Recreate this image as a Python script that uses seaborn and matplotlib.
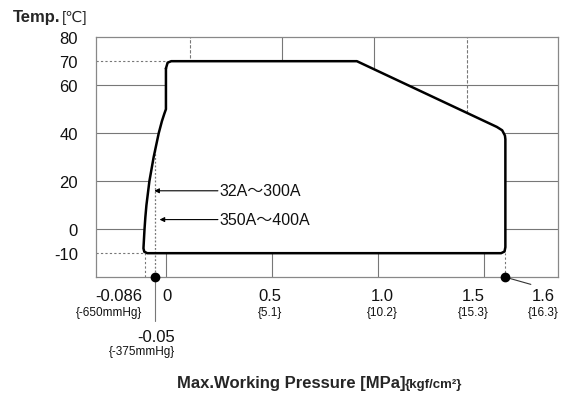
import numpy as np
import pandas as pd
import matplotlib
matplotlib.use("Agg")
import matplotlib.pyplot as plt
import seaborn as sns

# outline of the working range (pressure MPa, temp C)
bound_p = [0.0, 0.008, 0.025, 0.90, 1.56, 1.585, 1.598, 1.60, 1.60, 1.596, 1.58,
           -0.088, -0.102, -0.106, -0.101, -0.097, -0.092, -0.085, -0.078, -0.068,
           -0.058, -0.046, -0.034, -0.019, -0.008, 0.0, 0.0]
bound_t = [67, 69.4, 70, 70, 42.6, 41.2, 39, 37.5, -7.5, -9.3, -10,
           -10, -9.4, -8, 0, 5, 10, 15, 20, 25,
           30, 35, 40, 45, 48, 50, 67]

# 350A~400A limit (dotted)
big_p = [-0.05, -0.05]
big_t = [33, -20]

y_ticks = [80, 70, 60, 40, 20, 0, -10]
h_grid = [60, 40, 20, 0]
top_grid = [0.113, 0.547, 0.98, 1.42]
top_grid_dash = [True, False, False, True]
bot_grid = [0, 0.5, 1.0, 1.5]

x_labels = ['-0.086', '0', '0.5', '1.0', '1.5', '1.6']
x_kgf = ['{-650mmHg}', '', '{5.1}', '{10.2}', '{15.3}', '{16.3}']
x_label_pos = [-0.113, 0.005, 0.49, 1.02, 1.448, 1.778]
x_label_ha = ['right', 'center', 'center', 'center', 'center', 'center']

vac_label = '-0.05'
vac_kgf = '{-375mmHg}'

marks_p = [-0.05, 1.6]

sizes = ['32A～300A', '350A～400A']
size_t = [16, 4]
size_tip = [-0.055, -0.03]

sns.set_theme(style="white")
plt.rcParams['font.family'] = ['Liberation Sans', 'DejaVu Sans', 'Noto Sans CJK JP']

fig = plt.figure(figsize=(5.61, 4.02), dpi=100)
ax = fig.add_axes([0.171, 0.308, 0.824, 0.597])
ax.set_xlim(-0.330, 1.849)
ax.set_ylim(-20, 80)

grid_c = '#777777'
# grid pieces
ax.hlines(h_grid, -0.33, 1.849, color=grid_c, lw=0.8, zorder=1)
ax.hlines([70], -0.33, 0.0, color=grid_c, lw=0.8, ls=(0, (2, 2)), zorder=1)
ax.hlines([-10], -0.33, -0.1, color=grid_c, lw=0.8, ls=(0, (2, 2)), zorder=1)
for gx, dsh in zip(top_grid, top_grid_dash):
    ax.vlines(gx, 40, 80, color=grid_c, lw=0.8, ls=(0, (3, 1.5)) if dsh else '-', zorder=1)
ax.vlines(bot_grid, -20, -10, color=grid_c, lw=0.8, zorder=1)
ax.vlines([-0.1, 1.6], -20, -10, color=grid_c, lw=0.8, ls=(0, (2, 2)), zorder=1)

# white fill + outline
ax.fill(bound_p, bound_t, color='white', zorder=2)
sns.lineplot(x=bound_p, y=bound_t, sort=False, estimator=None, color='black', lw=1.8,
             ax=ax, zorder=4)
ax.plot(big_p, big_t, color=grid_c, lw=0.9, ls=(0, (1.5, 1.5)), zorder=3)

# pressure marks on the axis
ax.plot(marks_p, [-20, -20], 'o', color='black', ms=6, clip_on=False, zorder=6)
ax.plot([-0.05, -0.05], [-20, -38.3], color=grid_c, lw=0.8, clip_on=False)
ax.plot([1.6, 1.72], [-20, -23], color='#333333', lw=0.8, clip_on=False)

# size arrows
for lab, t, tip in zip(sizes, size_t, size_tip):
    ax.annotate('', xy=(tip, t), xytext=(0.245, t),
                arrowprops=dict(arrowstyle='-|>', color='black', lw=0.8,
                                mutation_scale=7, shrinkA=0, shrinkB=0), zorder=5)
    ax.text(0.25, t, lab, fontsize=11.5, va='center', ha='left', color='#111111', zorder=5)

# axes look
for s in ax.spines.values():
    s.set_color('#888888')
    s.set_linewidth(0.9)
ax.set_yticks(y_ticks)
ax.set_yticklabels([str(v) for v in y_ticks], fontsize=12, color='#111111')
ax.tick_params(axis='y', length=0, pad=13)
ax.set_xticks([])

for lab, kg, xp, ha in zip(x_labels, x_kgf, x_label_pos, x_label_ha):
    ax.text(xp, -27.5, lab, fontsize=12, ha=ha, va='center', color='#111111', clip_on=False)
    if kg:
        ax.text(xp, -34.6, kg, fontsize=8.5, ha=ha, va='center', color='#111111', clip_on=False)
ax.text(0.042, -44.6, vac_label, fontsize=12, ha='right', va='center', color='#111111', clip_on=False)
ax.text(0.042, -50.8, vac_kgf, fontsize=8.5, ha='right', va='center', color='#111111', clip_on=False)

# titles
fig.text(0.023, 0.945, 'Temp.', fontsize=12, fontweight='bold', ha='left', va='baseline')
fig.text(0.111, 0.945, '[℃]', fontsize=11, ha='left', va='baseline')
fig.text(0.722, 0.035, 'Max.Working Pressure [MPa]', fontsize=12, fontweight='bold',
         ha='right', va='baseline')
fig.text(0.722, 0.035, '{kgf/cm²}', fontsize=9.5, fontweight='bold', ha='left', va='baseline')

fig.savefig('out.png', dpi=100)
